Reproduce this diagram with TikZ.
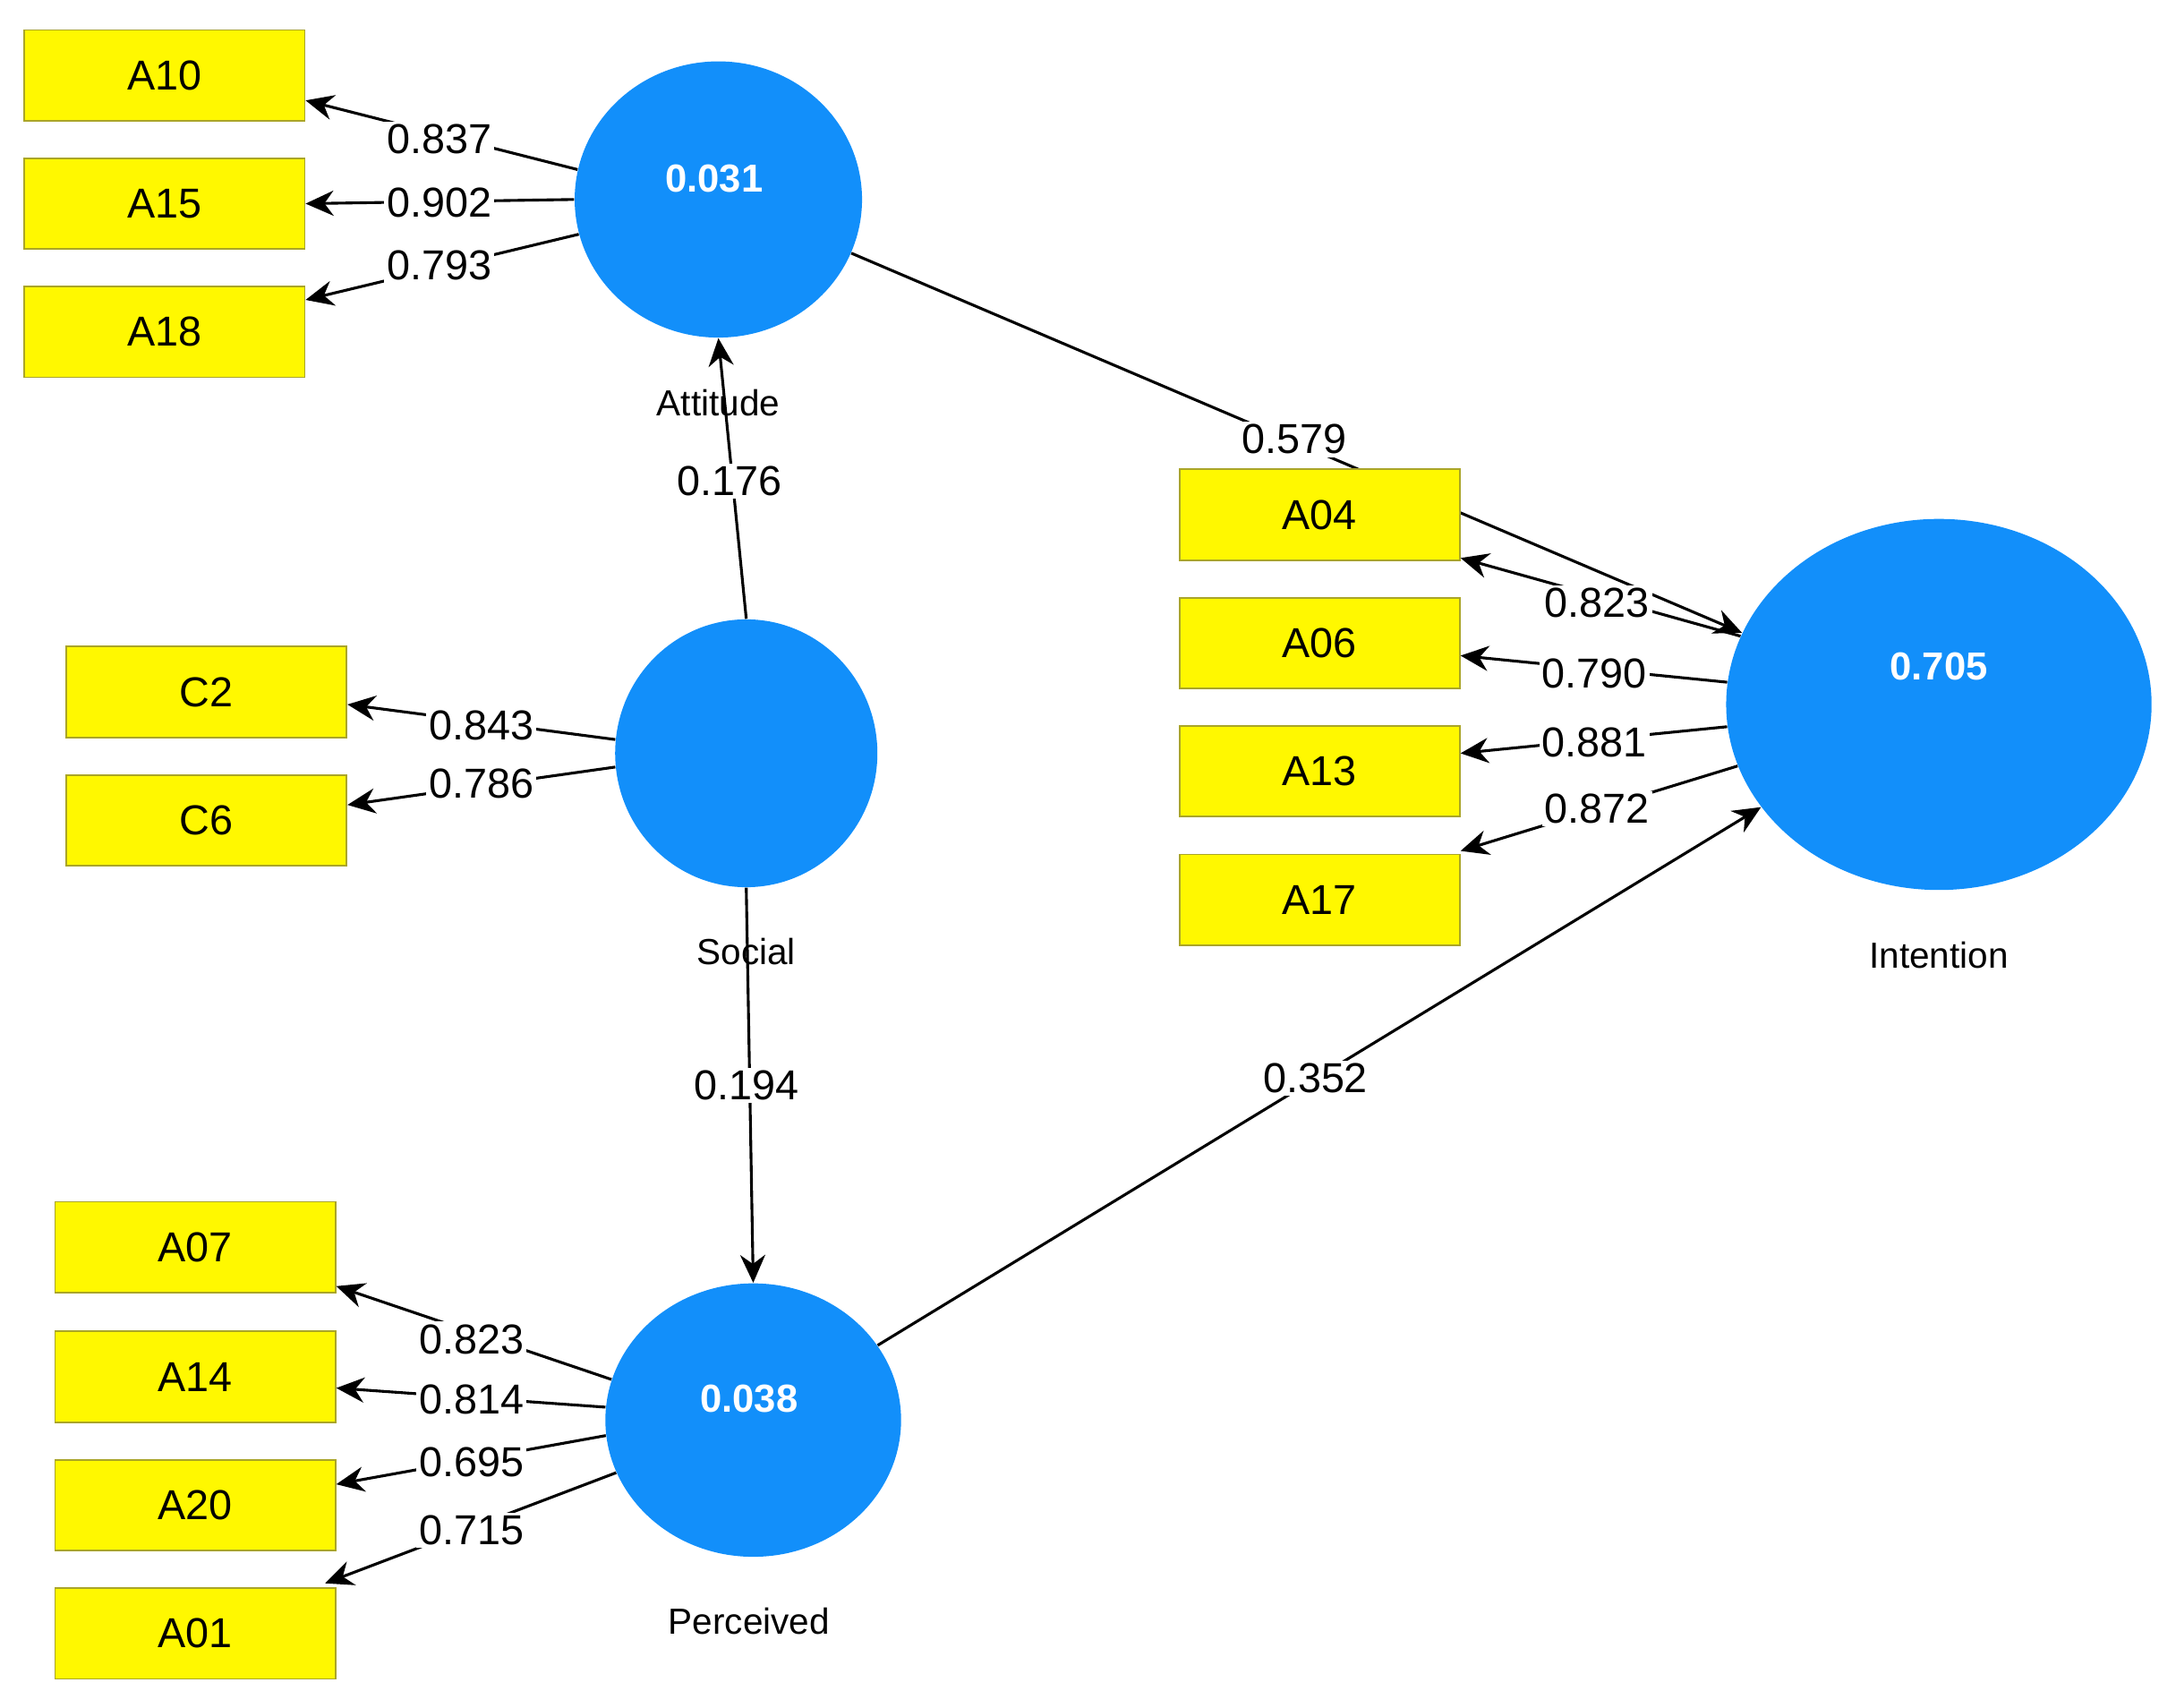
\documentclass[tikz,border=0pt]{standalone}
\usepackage{fontspec}
\setmainfont{Liberation Sans}
\usetikzlibrary{shapes.geometric,arrows.meta,calc}
\definecolor{boxy}{RGB}{255,248,0}
\definecolor{boxb}{RGB}{170,165,40}
\definecolor{lv}{RGB}{18,143,250}
\begin{document}
\begin{tikzpicture}[x=0.5pt,y=-0.5pt,
 ind/.style={draw=boxb,line width=0.6pt,fill=boxy,minimum width=100.5pt,minimum height=32.5pt,inner sep=0pt,font=\fontsize{15}{18}\selectfont},
 lat/.style={ellipse,fill=lv,inner sep=0pt,text=white,font=\fontsize{14}{17}\selectfont\bfseries},
 nm/.style={font=\fontsize{13}{16}\selectfont},
 val/.style={fill=white,inner sep=1pt,font=\fontsize{15}{18}\selectfont},
 ar/.style={line width=1pt,-{Stealth[length=10pt,width=9pt]}}]
\useasboundingbox (0,0) rectangle (1560,1224);
% latent variables
\node[lat,minimum width=103pt,minimum height=99pt] (att) at (515,143) {};
\node[lat,minimum width=94pt,minimum height=96pt] (soc) at (535,540) {};
\node[lat,minimum width=106pt,minimum height=98pt] (per) at (540,1018) {};
\node[lat,minimum width=152.5pt,minimum height=133pt] (int) at (1390,505) {};
\node[text=white,font=\fontsize{14}{17}\selectfont\bfseries] (attv) at (512,128) {0.031};
\node[text=white,font=\fontsize{14}{17}\selectfont\bfseries] (perv) at (537,1003) {0.038};
\node[text=white,font=\fontsize{14}{17}\selectfont\bfseries] (intv) at (1390,478) {0.705};
% structural paths (behind boxes)
\draw[ar] (att.-22) -- (int.160);
\draw[ar] (per.31) -- (int.210);
\draw[ar] (soc.north) -- (att.south);
\draw[ar] (soc.south) -- (per.north);
% names
\node[nm] (attn) at (515,289) {Attitude};
\node[nm] (socn) at (535,682) {Social};
\node[nm] (pern) at (537,1162) {Perceived};
\node[nm] (intn) at (1390,685) {Intention};
% indicators
\node[ind] (a10) at (118,54) {A10};
\node[ind] (a15) at (118,146) {A15};
\node[ind] (a18) at (118,238) {A18};
\node[ind] (c2) at (148,496) {C2};
\node[ind] (c6) at (148,588) {C6};
\node[ind] (a04) at (946,369) {A04};
\node[ind] (a06) at (946,461) {A06};
\node[ind] (a13) at (946,553) {A13};
\node[ind] (a17) at (946,645) {A17};
\node[ind] (a07) at (140,894) {A07};
\node[ind] (a14) at (140,987) {A14};
\node[ind] (a20) at (140,1079) {A20};
\node[ind] (a01) at (140,1171) {A01};
% loadings
\draw[ar] (att.168) -- ($(a10.east)+(0,18)$);
\draw[ar] (att.180) -- (a15.east);
\draw[ar] (att.194) -- ($(a18.east)+(0,-23)$);
\draw[ar] (soc.174) -- ($(c2.east)+(0,9)$);
\draw[ar] (soc.186) -- ($(c6.east)+(0,-11)$);
\draw[ar] (int.161) -- ($(a04.east)+(0,31)$);
\draw[ar] (int.174) -- ($(a06.east)+(0,9)$);
\draw[ar] (int.186) -- ($(a13.east)+(0,-13)$);
\draw[ar] (int.197) -- ($(a17.east)+(0,-35)$);
\draw[ar] (per.164) -- ($(a07.east)+(0,28)$);
\draw[ar] (per.175) -- ($(a14.east)+(0,8)$);
\draw[ar] (per.186) -- ($(a20.east)+(0,-15)$);
\draw[ar] (per.201) -- ($(a01.east)+(-8,-36)$);
% values
\node[val] (v1) at (315,100) {0.837};
\node[val] (v2) at (315,145) {0.902};
\node[val] (v3) at (315,190) {0.793};
\node[val] (v4) at (345,520) {0.843};
\node[val] (v5) at (345,562) {0.786};
\node[val] (v6) at (1145,432) {0.823};
\node[val] (v7) at (1143,483) {0.790};
\node[val] (v8) at (1143,532) {0.881};
\node[val] (v9) at (1145,580) {0.872};
\node[val] (v10) at (338,960) {0.823};
\node[val] (v11) at (338,1003) {0.814};
\node[val] (v12) at (338,1048) {0.695};
\node[val] (v13) at (338,1097) {0.715};
\node[val] (v14) at (523,345) {0.176};
\node[val] (v15) at (535,778) {0.194};
\node[val] (v16) at (928,315) {0.579};
\node[val] (v17) at (943,773) {0.352};
\end{tikzpicture}
\end{document}
